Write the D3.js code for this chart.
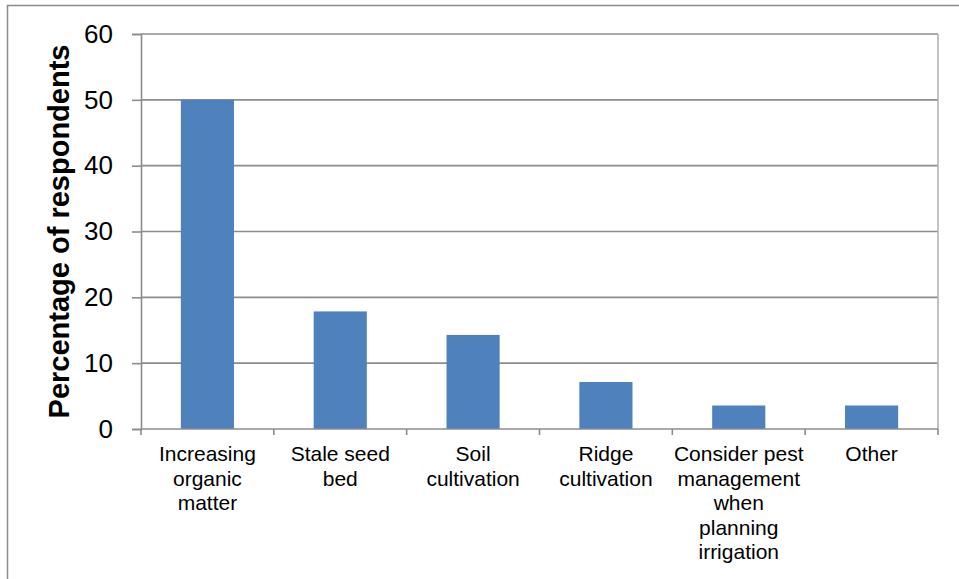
<!DOCTYPE html>
<html>
<head>
<meta charset="utf-8">
<script src="https://cdn.jsdelivr.net/npm/d3@7"></script>
<style>
  html, body { margin: 0; padding: 0; background: #fff; }
  svg { display: block; font-family: "Liberation Sans", Arial, sans-serif; }
</style>
</head>
<body>
<div id="chart"></div>
<script>
const CATEGORIES = [
  "Increasing organic matter",
  "Stale seed bed",
  "Soil cultivation",
  "Ridge cultivation",
  "Consider pest management when planning irrigation",
  "Other",
];
const LABEL_LINES = [
  ["Increasing", "organic", "matter"],
  ["Stale seed", "bed"],
  ["Soil", "cultivation"],
  ["Ridge", "cultivation"],
  ["Consider pest", "management", "when", "planning", "irrigation"],
  ["Other"],
];
const VALUES = [50, 17.86, 14.29, 7.14, 3.57, 3.57];
const Y_TICKS = [0, 10, 20, 30, 40, 50, 60];
const Y_TITLE = "Percentage of respondents";

const width = 959;
const height = 579;
const plot = { left: 141, right: 938, top: 34, bottom: 429 };

const svg = d3.select("#chart")
  .append("svg")
  .attr("width", width)
  .attr("height", height);

// outer frame (cut off at right and bottom)
svg.append("rect")
  .attr("x", 7.5)
  .attr("y", 5.5)
  .attr("width", width + 20)
  .attr("height", height + 20)
  .attr("fill", "none")
  .attr("stroke", "#8a8a8a")
  .attr("stroke-width", 1.5);

const y = d3.scaleLinear().domain([0, 60]).range([plot.bottom, plot.top]);

const x = d3.scaleBand()
  .domain(CATEGORIES)
  .range([plot.left, plot.right])
  .paddingInner(0.6)
  .paddingOuter(0.3);

const xCell = d3.scaleBand()
  .domain(CATEGORIES)
  .range([plot.left, plot.right])
  .padding(0);

// gridlines
svg.append("g")
  .selectAll("line")
  .data(Y_TICKS.filter((d) => d > 0))
  .join("line")
  .attr("x1", plot.left)
  .attr("x2", plot.right)
  .attr("y1", (d) => y(d))
  .attr("y2", (d) => y(d))
  .attr("stroke", "#8c8c8c")
  .attr("stroke-width", 1.6);

// right border of plot area
svg.append("line")
  .attr("x1", plot.right)
  .attr("x2", plot.right)
  .attr("y1", plot.top)
  .attr("y2", plot.bottom)
  .attr("stroke", "#b4b4b4")
  .attr("stroke-width", 1.6);

// bars
svg.append("g")
  .selectAll("rect")
  .data(VALUES)
  .join("rect")
  .attr("x", (d, i) => x(CATEGORIES[i]))
  .attr("y", (d) => y(d))
  .attr("width", x.bandwidth())
  .attr("height", (d) => y(0) - y(d))
  .attr("fill", "#4f81bd");

// y axis
const yAxis = svg.append("g")
  .attr("transform", `translate(${plot.left},0)`)
  .call(d3.axisLeft(y).tickValues(Y_TICKS).tickSize(9).tickPadding(19).tickFormat(d3.format("d")));

yAxis.select(".domain").attr("stroke", "#8c8c8c").attr("stroke-width", 1.6);
yAxis.selectAll(".tick line").attr("stroke", "#8c8c8c").attr("stroke-width", 1.6);
yAxis.selectAll(".tick text")
  .attr("fill", "#000")
  .style("font-size", "26px")
  .style("font-family", "'Liberation Sans', Arial, sans-serif");

// x axis with ticks at category boundaries
const xAxis = svg.append("g");
xAxis.append("line")
  .attr("x1", plot.left)
  .attr("x2", plot.right)
  .attr("y1", plot.bottom)
  .attr("y2", plot.bottom)
  .attr("stroke", "#8c8c8c")
  .attr("stroke-width", 1.6);

const boundaries = CATEGORIES.map((c) => xCell(c)).concat([plot.right]);
xAxis.selectAll(".bt")
  .data(boundaries)
  .join("line")
  .attr("class", "bt")
  .attr("x1", (d) => d)
  .attr("x2", (d) => d)
  .attr("y1", plot.bottom)
  .attr("y2", plot.bottom + 6)
  .attr("stroke", "#8c8c8c")
  .attr("stroke-width", 1.6);

const labels = xAxis.selectAll(".cat")
  .data(CATEGORIES)
  .join("text")
  .attr("class", "cat")
  .attr("x", (d) => x(d) + x.bandwidth() / 2)
  .attr("y", plot.bottom + 32)
  .attr("text-anchor", "middle")
  .style("font-size", "21px")
  .attr("fill", "#000");

labels.each(function (d, i) {
  const t = d3.select(this);
  LABEL_LINES[i].forEach((line, j) => {
    t.append("tspan")
      .attr("x", x(d) + x.bandwidth() / 2)
      .attr("y", plot.bottom + 32 + j * 24.5)
      .text(line);
  });
});

// y title
svg.append("text")
  .attr("transform", `translate(69,${(plot.top + plot.bottom) / 2}) rotate(-90)`)
  .attr("text-anchor", "middle")
  .style("font-size", "29px")
  .style("font-weight", "bold")
  .attr("fill", "#000")
  .text(Y_TITLE);
</script>
</body>
</html>
